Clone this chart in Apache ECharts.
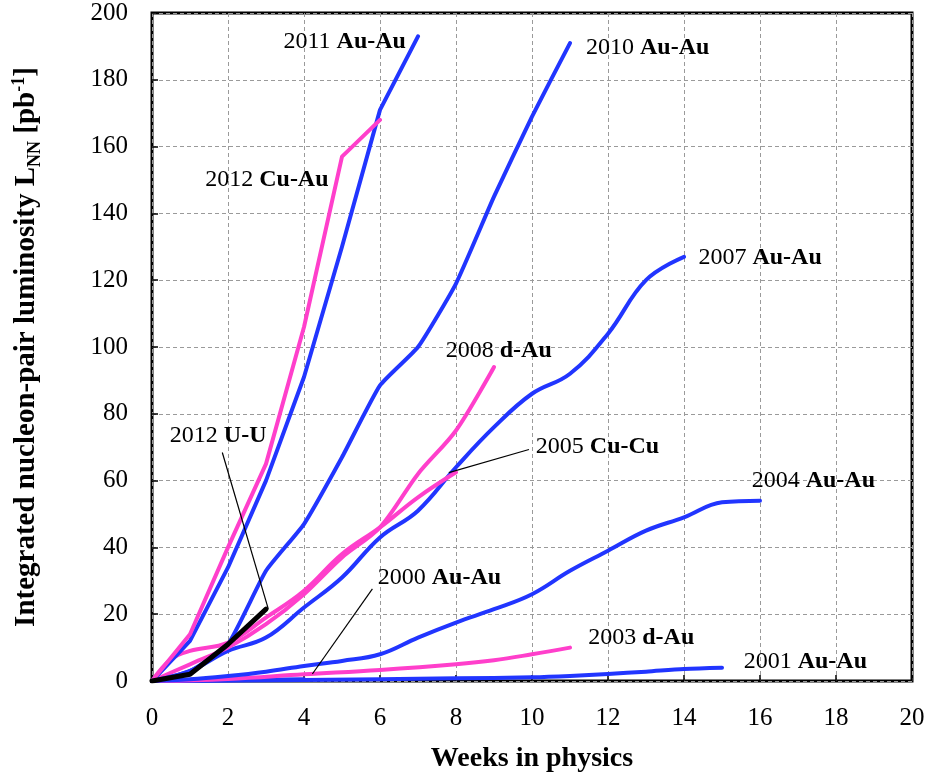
<!DOCTYPE html>
<html>
<head>
<meta charset="utf-8">
<script src="https://cdn.jsdelivr.net/npm/echarts@6/dist/echarts.min.js"></script>
<style>
  html, body { margin: 0; padding: 0; background: #fff; }
  #main { width: 931px; height: 774px; }
</style>
</head>
<body>
<div id="main"></div>
<script>
// Integrated nucleon-pair luminosity per run, by week of physics running
const run2011AuAuWeeks = [0, 1, 2, 3, 4, 5, 6, 7];
const run2011AuAu      = [0, 12, 34, 60, 91, 130, 171, 193];

const run2012CuAuWeeks = [0, 1, 2, 3, 4, 5, 6];
const run2012CuAu      = [0, 14, 40, 65, 106, 157, 168];

const run2010AuAuWeeks = [0, 1, 2, 3, 4, 5, 6, 7, 8, 9, 10, 11];
const run2010AuAu      = [0, 3, 11, 33, 47, 67, 88.5, 100, 119, 145, 169, 191];

const run2007AuAuWeeks = [0, 1, 2, 3, 4, 5, 6, 7, 8, 9, 10, 11, 12, 13, 14];
const run2007AuAu      = [0, 3, 9, 13, 22, 31, 43, 51, 64, 76, 86, 92, 104, 120, 127];

const run2008dAuWeeks  = [0, 1, 2, 3, 4, 5, 6, 7, 8, 9];
const run2008dAu       = [0, 5, 10, 17, 26, 37, 46, 62, 75, 94];

const run2005CuCuWeeks = [0, 0.5, 1, 2, 3, 4, 5, 6, 7, 8];
const run2005CuCu      = [0, 6.5, 9, 11.5, 19, 27, 38, 46, 55, 62.5];

const run2012UUWeeks   = [0, 1, 2, 3];
const run2012UU        = [0, 2, 11, 21.5];

const run2004AuAuWeeks = [0, 1, 2, 3, 4, 5, 6, 7, 8, 9, 10, 11, 12, 13, 14, 15, 16];
const run2004AuAu      = [0, 0.5, 1.5, 2.8, 4.5, 6, 8, 13, 17.5, 21.5, 26, 33, 39, 45, 49, 53.5, 54];

const run2003dAuWeeks  = [0, 2, 4, 6, 8, 9, 10, 11];
const run2003dAu       = [0, 0.6, 2, 3.3, 5, 6.2, 8, 10];

const run2001AuAuWeeks = [0, 4, 8, 10, 11, 12, 13, 14, 15];
const run2001AuAu      = [0, 0.3, 0.8, 1.1, 1.5, 2.1, 2.8, 3.6, 4];

const run2000AuAuWeeks = [0, 1, 2, 3, 4];
const run2000AuAu      = [0, 0.1, 0.2, 0.35, 0.5];

const BLUE = '#2135ff';
const PINK = '#ff3fcb';
const FONT = '"Liberation Serif", "Times New Roman", serif';

function pairs(xs, ys) { return xs.map((x, i) => [x, ys[i]]); }

function run(name, xs, ys, color, smooth, width) {
  return {
    name: name,
    type: 'line',
    data: pairs(xs, ys),
    showSymbol: false,
    symbol: 'none',
    smooth: smooth,
    lineStyle: { color: color, width: width || 4, cap: 'round', join: 'round' },
    silent: true
  };
}

const chart = echarts.init(document.getElementById('main'), null, { renderer: 'canvas' });

const dashed = { show: true, lineStyle: { color: '#9a9a9a', width: 1, type: [4, 3] } };

chart.setOption({
  animation: false,
  backgroundColor: '#fff',
  grid: {
    left: 152, right: 19, top: 13, bottom: 93,
    outerBoundsMode: 'none',
    containLabel: false,
    show: true, borderColor: '#000', borderWidth: 3, backgroundColor: 'transparent'
  },
  xAxis: {
    type: 'value', min: 0, max: 20, interval: 2,
    axisLine: { show: false },
    axisTick: { show: true, inside: true, length: 6, lineStyle: { color: '#000', width: 1.5 } },
    splitLine: dashed,
    axisLabel: { color: '#000', fontFamily: FONT, fontSize: 25, margin: 25 },
    name: 'Weeks in physics',
    nameLocation: 'middle',
    nameGap: 64,
    nameTextStyle: { color: '#000', fontFamily: FONT, fontSize: 28, fontWeight: 'bold' }
  },
  yAxis: {
    type: 'value', min: 0, max: 200, interval: 20,
    axisLine: { show: false },
    axisTick: { show: true, inside: true, length: 6, lineStyle: { color: '#000', width: 1.5 } },
    splitLine: dashed,
    axisLabel: { color: '#000', fontFamily: FONT, fontSize: 25, margin: 24 },
    name: '{b|Integrated nucleon-pair luminosity L}{sub|NN}{b| [pb}{sup|-1}{b|]}',
    nameLocation: 'middle',
    nameGap: 108,
    nameRotate: 90,
    nameTextStyle: {
      color: '#000',
      rich: {
        b:   { fontFamily: FONT, fontSize: 29, fontWeight: 'bold', color: '#000', lineHeight: 34 },
        sub: { fontFamily: FONT, fontSize: 18, fontWeight: 'bold', color: '#000', verticalAlign: 'bottom', lineHeight: 34, padding: [12, 0, 0, 0] },
        sup: { fontFamily: FONT, fontSize: 18, fontWeight: 'bold', color: '#000', verticalAlign: 'top', lineHeight: 34, padding: [0, 0, 12, 0] }
      }
    }
  },
  series: [
    run('2001 Au-Au', run2001AuAuWeeks, run2001AuAu, BLUE, 0.3),
    run('2000 Au-Au', run2000AuAuWeeks, run2000AuAu, BLUE, 0.3),
    run('2003 d-Au', run2003dAuWeeks, run2003dAu, PINK, 0.4),
    run('2004 Au-Au', run2004AuAuWeeks, run2004AuAu, BLUE, 0.4),
    run('2007 Au-Au', run2007AuAuWeeks, run2007AuAu, BLUE, 0.4),
    run('2005 Cu-Cu', run2005CuCuWeeks, run2005CuCu, PINK, 0.4),
    run('2008 d-Au', run2008dAuWeeks, run2008dAu, PINK, 0.3),
    run('2010 Au-Au', run2010AuAuWeeks, run2010AuAu, BLUE, 0.15),
    run('2011 Au-Au', run2011AuAuWeeks, run2011AuAu, BLUE, false),
    run('2012 Cu-Au', run2012CuAuWeeks, run2012CuAu, PINK, false),
    run('2012 U-U', run2012UUWeeks, run2012UU, '#000', false, 5)
  ]
});

// Run labels: year in regular type, species in bold, anchored in data coordinates
const runLabels = [
  { year: '2011', ions: 'Au-Au', at: [3.46, 191.5] },
  { year: '2010', ions: 'Au-Au', at: [11.42, 189.5] },
  { year: '2012', ions: 'Cu-Au', at: [1.40, 150] },
  { year: '2007', ions: 'Au-Au', at: [14.38, 126.8] },
  { year: '2008', ions: 'd-Au',  at: [7.73, 99] },
  { year: '2005', ions: 'Cu-Cu', at: [10.1, 70.2] },
  { year: '2012', ions: 'U-U',   at: [0.47, 73.5] },
  { year: '2004', ions: 'Au-Au', at: [15.78, 60] },
  { year: '2000', ions: 'Au-Au', at: [5.94, 30.9] },
  { year: '2003', ions: 'd-Au',  at: [11.48, 12.9] },
  { year: '2001', ions: 'Au-Au', at: [15.57, 5.7] }
];

// Leader lines from a label to its curve
const leaders = [
  { from: [9.92, 69.3], to: [7.81, 62.4] },
  { from: [1.85, 68.4], to: [3.06, 21.6] },
  { from: [5.80, 27.6], to: [4.22, 2.1] }
];

function px(p) { return chart.convertToPixel({ gridIndex: 0 }, p); }

const graphics = [];
leaders.forEach(l => {
  const a = px(l.from), b = px(l.to);
  graphics.push({
    type: 'line', silent: true, z: 50,
    shape: { x1: a[0], y1: a[1], x2: b[0], y2: b[1] },
    style: { stroke: '#000', lineWidth: 1.2 }
  });
});
runLabels.forEach(l => {
  const p = px(l.at);
  graphics.push({
    type: 'text', silent: true, z: 60,
    x: p[0], y: p[1],
    style: {
      text: '{n|' + l.year + ' }{b|' + l.ions + '}',
      align: 'left', verticalAlign: 'middle',
      rich: {
        n: { fontFamily: FONT, fontSize: 24, fill: '#000' },
        b: { fontFamily: FONT, fontSize: 24, fontWeight: 'bold', fill: '#000' }
      }
    }
  });
});
chart.setOption({ graphic: graphics });
</script>
</body>
</html>
